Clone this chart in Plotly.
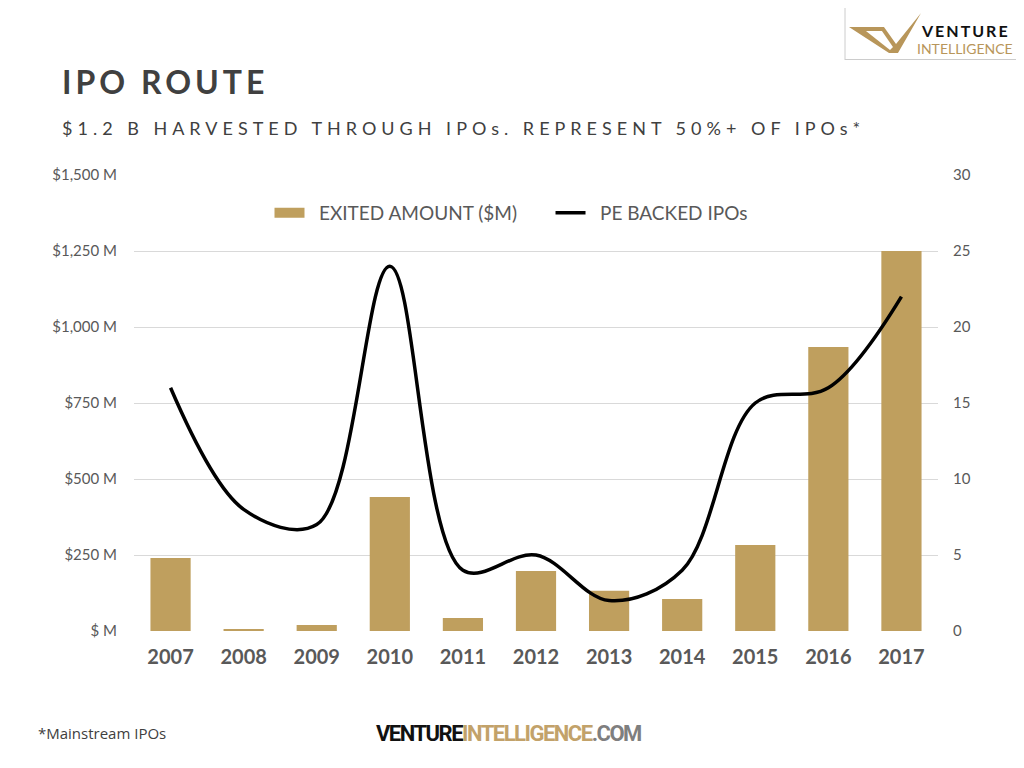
import plotly.graph_objects as go

years = ['2007', '2008', '2009', '2010', '2011', '2012', '2013', '2014', '2015', '2016', '2017']
exited_amount = [240, 5, 20, 441, 43, 197, 132, 105, 283, 934, 1250]
pe_backed_ipos = [16, 8, 7, 24, 4, 5, 2, 4, 15, 16, 22]

left_ticks = [0, 250, 500, 750, 1000, 1250, 1500]
left_tick_text = ['$ M', '$250 M', '$500 M', '$750 M', '$1,000 M', '$1,250 M', '$1,500 M']
right_ticks = [0, 5, 10, 15, 20, 25, 30]

GOLD = '#BF9F5E'
GRAY_TXT = '#595959'
FONT = 'Lato, Open Sans, sans-serif'

# page offset (browser body margin) and plot area in screen pixels
OFF = 8
L, R, T, B = 134, 938, 175, 631
W, H = 1016, 760

def px(x):
    return (x - L) / (R - L)

def py(y):
    return (B - y) / (B - T)

fig = go.Figure()
fig.add_trace(go.Bar(
    x=years, y=exited_amount, name='EXITED AMOUNT ($M)', showlegend=False,
    marker=dict(color=GOLD, line=dict(width=0)), yaxis='y'))
# legend proxy for the bar series (wide gold swatch like the original)
fig.add_trace(go.Scatter(
    x=[None], y=[None], name='\u2002EXITED AMOUNT ($M)\u2003\u2003', mode='lines',
    line=dict(color=GOLD, width=10), yaxis='y'))
fig.add_trace(go.Scatter(
    x=years, y=pe_backed_ipos, name='\u2002PE BACKED IPOs', mode='lines',
    line=dict(color='black', width=3.5, shape='spline', smoothing=1.0), yaxis='y2'))

fig.update_layout(
    width=W, height=H,
    margin=dict(l=L - OFF, r=W - (R - OFF), t=T - OFF, b=H - (B - OFF), pad=0),
    paper_bgcolor='white', plot_bgcolor='white',
    bargap=0.45,
    font=dict(family=FONT, color=GRAY_TXT),
    showlegend=True,
    legend=dict(orientation='h', x=px(511), y=py(213), xanchor='center', yanchor='middle',
                font=dict(size=19, color=GRAY_TXT), bgcolor='rgba(0,0,0,0)',
                itemwidth=30, tracegroupgap=0),
    xaxis=dict(type='category', showgrid=False, showline=False, zeroline=False,
               ticks='', ticklabelstandoff=12,
               tickfont=dict(size=20, color=GRAY_TXT, family=FONT, weight='bold')),
    yaxis=dict(range=[0, 1500], tickvals=left_ticks, ticktext=left_tick_text,
               showgrid=True, gridcolor='#D9D9D9', gridwidth=1, zeroline=False,
               showline=False, ticks='', ticklabelstandoff=16,
               tickfont=dict(size=15, color=GRAY_TXT)),
    yaxis2=dict(range=[0, 30], tickvals=right_ticks, overlaying='y', side='right',
                showgrid=False, zeroline=False, showline=False, ticks='',
                ticklabelstandoff=14, tickfont=dict(size=15, color=GRAY_TXT)),
)

annotations = [
    dict(text="<span style='letter-spacing:4px'><b>IPO ROUTE</b></span>", x=px(60), y=py(82),
         xanchor='left', yanchor='middle', font=dict(size=32, color='#404040', family=FONT)),
    dict(text="<span style='letter-spacing:5px'>$1.2 B HARVESTED THROUGH IPOs. REPRESENT 50%+ OF IPOs*</span>",
         x=px(60), y=py(128), xanchor='left', yanchor='middle',
         font=dict(size=18, color='#404040', family=FONT)),
    dict(text='*Mainstream IPOs', x=px(36), y=py(733), xanchor='left', yanchor='middle',
         font=dict(size=15, color='#404040', family='Open Sans, sans-serif')),
    dict(text="<span style='letter-spacing:-1.5px'><b>"
              "<span style='color:#111111'>VENTURE</span>"
              "<span style='color:#C2A26A'>INTELLIGENCE</span>"
              "<span style='color:#7F7F7F'>.COM</span></b></span>",
         x=px(508), y=py(733), xanchor='center', yanchor='middle',
         font=dict(size=22, family='Roboto, sans-serif')),
    dict(text="<span style='letter-spacing:2px'><b>VENTURE</b></span>", x=px(965), y=py(31),
         xanchor='center', yanchor='middle',
         font=dict(size=16, color='#111111', family=FONT)),
    dict(text='INTELLIGENCE', x=px(965), y=py(48), xanchor='center', yanchor='middle',
         font=dict(size=14, color='#B8965A', family=FONT)),
]
for a in annotations:
    a.update(xref='paper', yref='paper', showarrow=False)
fig.update_layout(annotations=annotations)

def path(points):
    return 'M ' + ' L '.join(f'{px(x):.4f},{py(y):.4f}' for x, y in points) + ' Z'

shapes = [
    dict(type='line', x0=px(845), x1=px(845), y0=py(8), y1=py(60),
         line=dict(color='#CCCCCC', width=1)),
    dict(type='line', x0=px(845), x1=px(1024), y0=py(59.5), y1=py(59.5),
         line=dict(color='#CCCCCC', width=1)),
    dict(type='path', path=path([(849, 27), (884, 27), (896, 44), (921, 13), (898, 53), (889, 53)]),
         fillcolor='#B8965A', line=dict(width=0)),
    dict(type='path', path=path([(866, 31), (882, 31), (893, 47), (890, 50)]),
         fillcolor='white', line=dict(width=0)),
]
for s in shapes:
    s.update(xref='paper', yref='paper', layer='above')
fig.update_layout(shapes=shapes)

fig.write_html('out.html')
